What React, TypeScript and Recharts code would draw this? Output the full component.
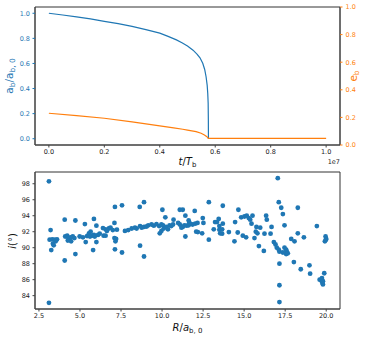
import React from "react";
import {
  LineChart, Line, ScatterChart, Scatter, XAxis, YAxis, ReferenceArea,
} from "recharts";

// ---- top panel data (time in units of 1e7 T_b) ----
const blueTime = [0, 0.05, 0.1, 0.15, 0.2, 0.25, 0.3, 0.35, 0.4, 0.43, 0.46, 0.48, 0.5, 0.52, 0.535, 0.545, 0.555, 0.562, 0.567, 0.571, 0.573, 0.5745, 0.5752, 0.5755];
const semiMajorRatio = [1.0, 0.986, 0.971, 0.955, 0.936, 0.917, 0.895, 0.869, 0.842, 0.816, 0.788, 0.765, 0.739, 0.706, 0.673, 0.645, 0.602, 0.552, 0.494, 0.425, 0.362, 0.285, 0.15, 0.0];
const orangeTime = [0, 0.1, 0.2, 0.3, 0.4, 0.45, 0.483, 0.5, 0.531, 0.549, 0.561, 0.57, 0.575, 0.6, 0.8, 1.0];
const eccentricity = [0.23, 0.213, 0.194, 0.168, 0.138, 0.124, 0.114, 0.108, 0.097, 0.085, 0.073, 0.06, 0.048, 0.048, 0.048, 0.048];
const topXTicks = [0, 0.2, 0.4, 0.6, 0.8, 1.0];
const unitTicks = [0, 0.2, 0.4, 0.6, 0.8, 1.0];

// ---- bottom panel data ----
const radius = [
  3.11, 3.11, 3.21, 3.15, 3.31, 3.46, 3.6, 3.35, 3.52, 3.25, 3.4, 4.07, 4.07, 4.1, 4.22, 4.3, 4.36, 4.42, 4.56, 4.66,
  4.26, 4.46, 4.72, 4.72, 4.98, 5.18, 5.43, 5.3, 5.35, 5.55, 5.65, 5.75, 5.61, 5.85, 5.85, 5.8, 6.0, 6.0, 5.9, 6.1,
  6.2, 6.4, 6.56, 6.64, 6.76, 6.86, 6.44, 6.56, 7.1, 7.13, 7.1, 7.16, 7.2, 7.13, 7.0, 7.25, 7.56, 7.56, 7.74, 7.94,
  8.15, 8.35, 8.45, 8.66, 8.76, 8.9, 9.06, 9.16, 8.64, 8.9, 8.66, 8.9, 9.36, 9.5, 9.66, 9.82, 9.96, 10.06, 10.02, 10.2,
  9.86, 9.96, 10.1, 10.26, 10.36, 10.46, 10.56, 10.67, 10.7, 11.08, 11.08, 11.18, 10.98, 11.26, 11.42, 11.26, 11.36, 11.5, 11.62, 11.7,
  11.86, 12.02, 12.16, 11.42, 11.62, 11.66, 11.99, 12.08, 12.18, 12.48, 12.52, 12.44, 12.85, 12.85, 13.15, 13.23, 13.35, 13.45, 13.49, 13.49,
  13.66, 13.7, 13.66, 13.54, 13.7, 14.07, 14.41, 14.45, 14.61, 14.65, 14.82, 14.92, 15.12, 15.02, 15.16, 15.28, 15.37, 15.45, 15.51, 15.63,
  15.71, 15.75, 15.81, 15.98, 15.9, 16.2, 16.24, 16.34, 16.38, 16.61, 16.67, 17.05, 17.11, 17.26, 17.36, 17.46, 18.27, 16.81, 16.91, 16.99,
  17.11, 17.15, 17.46, 17.56, 17.6, 17.66, 17.56, 17.36, 17.15, 17.15, 17.15, 17.87, 18.07, 18.27, 18.64, 18.03, 18.45, 18.98, 19.02, 19.43,
  19.96, 20.0, 19.92, 19.98, 19.88, 19.6, 19.7, 19.76, 19.8, 19.74, 19.8,
];
const inclination = [
  98.3, 83.1, 92.2, 91.0, 91.05, 91.0, 91.05, 90.5, 90.8, 89.7, 90.3, 93.5, 88.4, 91.4, 91.5, 91.2, 91.0, 91.3, 91.4, 91.2,
  90.9, 90.8, 93.4, 89.2, 91.4, 91.3, 91.45, 92.96, 90.7, 91.8, 92.0, 91.5, 91.4, 91.6, 93.6, 89.7, 92.75, 90.7, 91.4, 91.6,
  91.75, 92.45, 92.3, 92.1, 92.4, 92.5, 91.5, 91.5, 93.1, 95.1, 91.2, 90.8, 91.1, 89.8, 92.2, 92.25, 95.3, 89.4, 92.1, 92.2,
  92.4, 92.5, 92.4, 92.7, 92.5, 92.6, 92.65, 92.8, 95.1, 95.7, 90.25, 88.9, 92.9, 92.75, 92.95, 92.7, 92.9, 92.8, 94.75, 93.8,
  91.8, 92.1, 92.4, 92.6, 92.3, 92.8, 92.7, 92.9, 93.5, 94.75, 92.9, 92.5, 93.1, 94.75, 94.0, 92.6, 92.8, 92.75, 92.8, 93.0,
  92.9, 93.0, 93.1, 91.4, 93.4, 93.1, 94.6, 92.0, 91.95, 93.7, 93.1, 91.8, 95.7, 91.0, 92.3, 93.2, 93.2, 93.6, 92.7, 92.25,
  92.3, 93.0, 91.75, 91.8, 95.25, 91.96, 90.8, 93.2, 91.9, 94.75, 93.8, 91.5, 91.3, 93.9, 94.0, 93.7, 93.5, 93.0, 94.0, 91.2,
  92.0, 92.6, 91.8, 92.5, 90.2, 89.6, 91.75, 94.0, 93.5, 91.75, 92.6, 98.7, 95.7, 95.0, 94.2, 92.8, 95.0, 90.7, 90.4, 90.0,
  89.75, 89.5, 90.0, 89.75, 89.5, 89.3, 89.2, 89.4, 88.0, 85.3, 83.2, 91.1, 90.8, 91.8, 91.3, 88.2, 87.3, 87.8, 86.75, 92.7,
  91.4, 91.1, 90.8, 91.0, 86.8, 86.0, 85.9, 85.6, 85.4, 86.2, 85.8,
];
const rTicks = [2.5, 5.0, 7.5, 10.0, 12.5, 15.0, 17.5, 20.0];
const iTicks = [84, 86, 88, 90, 92, 94, 96, 98];

const BLUE = "#1f77b4";
const ORANGE = "#ff7f0e";
const FONT = "DejaVu Sans";
const tickFont = { fontSize: 6.5, fontFamily: FONT };

const blueData = blueTime.map((t, k) => ({ t, a: semiMajorRatio[k] }));
const orangeData = orangeTime.map((t, k) => ({ t, e: eccentricity[k] }));
const scatterData = radius.map((r, k) => ({ r, inc: inclination[k] }));

const Dot = (props: any) => <circle cx={props.cx} cy={props.cy} r={2.4} fill={BLUE} />;

export default function App() {
  return (
    <div style={{ position: "absolute", left: 0, top: 0, width: 366, height: 339, background: "#fff" }}>
      <div style={{ position: "absolute", left: 0, top: 0 }}>
        <LineChart width={366} height={170} margin={{ top: 7, right: 0, bottom: 0, left: 0 }}>
          <XAxis
            type="number" dataKey="t" domain={[-0.05, 1.05]} ticks={topXTicks}
            tickFormatter={(v: number) => v.toFixed(1)} allowDataOverflow
            height={25} tickSize={2.5} tickMargin={1.5}
            tick={{ ...tickFont, fill: "#222" }} axisLine={{ stroke: "#444" }} tickLine={{ stroke: "#444" }}
          />
          <YAxis
            yAxisId="left" type="number" domain={[-0.05, 1.05]} ticks={unitTicks} allowDataOverflow
            tickFormatter={(v: number) => v.toFixed(1)} width={35} tickSize={2.5} tickMargin={2.5}
            tick={{ ...tickFont, fill: BLUE }} axisLine={{ stroke: "#444" }} tickLine={{ stroke: BLUE }}
          />
          <YAxis
            yAxisId="right" orientation="right" type="number" domain={[0, 1]} ticks={unitTicks} allowDataOverflow
            tickFormatter={(v: number) => v.toFixed(1)} width={26} tickSize={2.5} tickMargin={3}
            tick={{ ...tickFont, fill: ORANGE, textAnchor: "start" }} axisLine={{ stroke: "#444" }} tickLine={{ stroke: ORANGE }}
          />
          <ReferenceArea yAxisId="left" x1={-0.05} x2={1.05} y1={-0.05} y2={1.05} fill="none" stroke="#333" strokeWidth={1} ifOverflow="visible" />
          <Line yAxisId="left" data={blueData} dataKey="a" stroke={BLUE} strokeWidth={1.2} dot={false} isAnimationActive={false} type="linear" />
          <Line yAxisId="right" data={orangeData} dataKey="e" stroke={ORANGE} strokeWidth={1.2} dot={false} isAnimationActive={false} type="linear" />
        </LineChart>
      </div>
      <div style={{ position: "absolute", left: 0, top: 165 }}>
        <ScatterChart width={366} height={174} margin={{ top: 7, right: 26, bottom: 0, left: 0 }}>
          <XAxis
            type="number" dataKey="r" domain={[2.26, 20.84]} ticks={rTicks} allowDataOverflow
            tickFormatter={(v: number) => v.toFixed(1)} height={30} tickSize={2.5} tickMargin={1.5}
            tick={{ ...tickFont, fill: "#222" }} axisLine={{ stroke: "#444" }} tickLine={{ stroke: "#444" }}
          />
          <YAxis
            type="number" dataKey="inc" domain={[82.33, 99.47]} ticks={iTicks} allowDataOverflow
            width={35} tickSize={2.5} tickMargin={2.5}
            tick={{ ...tickFont, fill: "#222" }} axisLine={{ stroke: "#444" }} tickLine={{ stroke: "#444" }}
          />
          <ReferenceArea x1={2.26} x2={20.84} y1={82.33} y2={99.47} fill="none" stroke="#333" strokeWidth={1} ifOverflow="visible" />
          <Scatter data={scatterData} fill={BLUE} shape={Dot} isAnimationActive={false} />
        </ScatterChart>
      </div>
      <svg width={366} height={339} style={{ position: "absolute", left: 0, top: 0, pointerEvents: "none" }} fontFamily={FONT}>
        <text transform="translate(13,76) rotate(-90)" textAnchor="middle" fill={BLUE} fontSize={10.5}>
          a<tspan fontSize={7.5} dy={2}>b</tspan><tspan dy={-2}>/a</tspan><tspan fontSize={7.5} dy={2}>b, 0</tspan>
        </text>
        <text transform="translate(357,76) rotate(-90)" textAnchor="middle" fill={ORANGE} fontSize={10.5}>
          e<tspan fontSize={7.5} dy={2}>b</tspan>
        </text>
        <text x={187.5} y={165} textAnchor="middle" fill="#111" fontSize={10}>
          <tspan fontStyle="italic">t</tspan>/<tspan fontStyle="italic">T</tspan><tspan fontSize={7} dy={2}>b</tspan>
        </text>
        <text x={340} y={164} textAnchor="end" fill="#222" fontSize={6.5}>1e7</text>
        <text transform="translate(16,241) rotate(-90)" textAnchor="middle" fill="#111" fontSize={10}>
          <tspan fontStyle="italic">i</tspan>(°)
        </text>
        <text x={187.5} y={331} textAnchor="middle" fill="#111" fontSize={10}>
          <tspan fontStyle="italic">R</tspan>/<tspan fontStyle="italic">a</tspan><tspan fontSize={7} dy={2}>b, 0</tspan>
        </text>
      </svg>
    </div>
  );
}
